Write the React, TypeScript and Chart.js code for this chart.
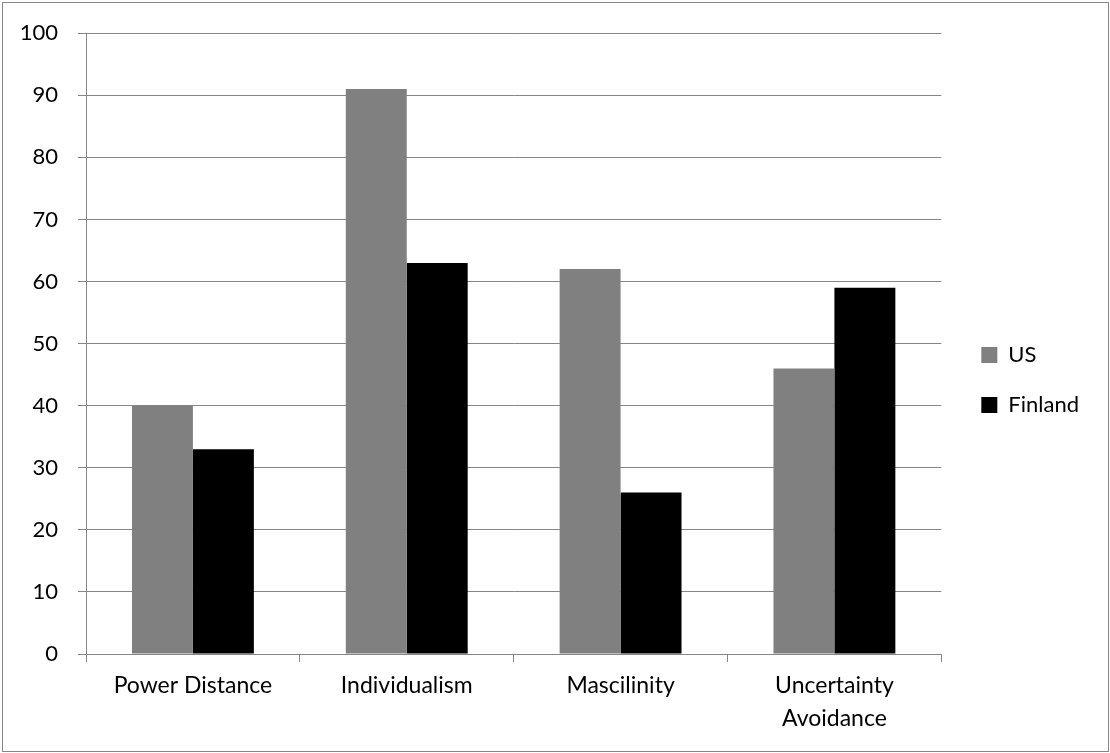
import React, { useEffect, useRef } from "react";
import { Chart, registerables } from "chart.js";

Chart.register(...registerables);

const categories: (string | string[])[] = [
  "Power Distance",
  "Individualism",
  "Mascilinity",
  ["Uncertainty", "Avoidance"],
];
const usValues = [40, 91, 62, 46];
const finlandValues = [33, 63, 26, 59];
const seriesNames = ["US", "Finland"];

const FONT = "Lato, 'Open Sans', sans-serif";
const AXIS = "#868686";

const borderPlugin = {
  id: "outerBorder",
  beforeDraw(chart: any) {
    const { ctx, width, height } = chart;
    ctx.save();
    ctx.fillStyle = "#ffffff";
    ctx.fillRect(0, 0, width, height);
    ctx.strokeStyle = AXIS;
    ctx.lineWidth = 1;
    ctx.strokeRect(2.5, 2.5, width - 4, height - 4);
    ctx.restore();
  },
};

const legendShift = {
  id: "legendShift",
  afterLayout(chart: any) {
    const lg = chart.legend;
    if (!lg) return;
    lg.left += 12;
    lg.right += 12;
    lg.top -= 7;
    lg.bottom -= 7;
  },
};

export default function App() {
  const ref = useRef<HTMLCanvasElement>(null);
  useEffect(() => {
    document.body.style.margin = "0";
    const chart = new Chart(ref.current!, {
      type: "bar",
      data: {
        labels: categories,
        datasets: [
          {
            label: seriesNames[0],
            data: usValues,
            backgroundColor: "#808080",
            categoryPercentage: 0.57,
            barPercentage: 1,
          },
          {
            label: seriesNames[1],
            data: finlandValues,
            backgroundColor: "#000000",
            categoryPercentage: 0.57,
            barPercentage: 1,
          },
        ],
      },
      options: {
        animation: false,
        responsive: false,
        devicePixelRatio: 1,
        layout: { padding: { top: 31, left: 10, right: 33, bottom: 10 } },
        plugins: {
          tooltip: { enabled: false },
          legend: {
            position: "right",
            align: "center",
            labels: {
              boxWidth: 16,
              boxHeight: 16,
              padding: 28,
              color: "#000",
              font: { family: FONT, size: 22 },
            },
          },
        },
        scales: {
          x: {
            grid: {
              drawOnChartArea: false,
              offset: true,
              tickLength: 8,
              color: AXIS,
            },
            border: { color: AXIS, width: 1 },
            ticks: {
              color: "#000",
              font: { family: FONT, size: 23, lineHeight: 1.45 },
              padding: 7,
              maxRotation: 0,
            },
            afterFit(scale: any) {
              scale.height = 89;
            },
          },
          y: {
            min: 0,
            max: 100,
            ticks: {
              stepSize: 10,
              color: "#000",
              font: { family: FONT, size: 22 },
              padding: 20,
            },
            grid: { color: AXIS, tickLength: 8 },
            border: { color: AXIS, width: 1 },
            afterFit(scale: any) {
              scale.width = 76;
            },
          },
        },
      },
      plugins: [borderPlugin, legendShift],
    });
    return () => chart.destroy();
  }, []);
  return <canvas ref={ref} width={1110} height={753} style={{ display: "block" }} />;
}
